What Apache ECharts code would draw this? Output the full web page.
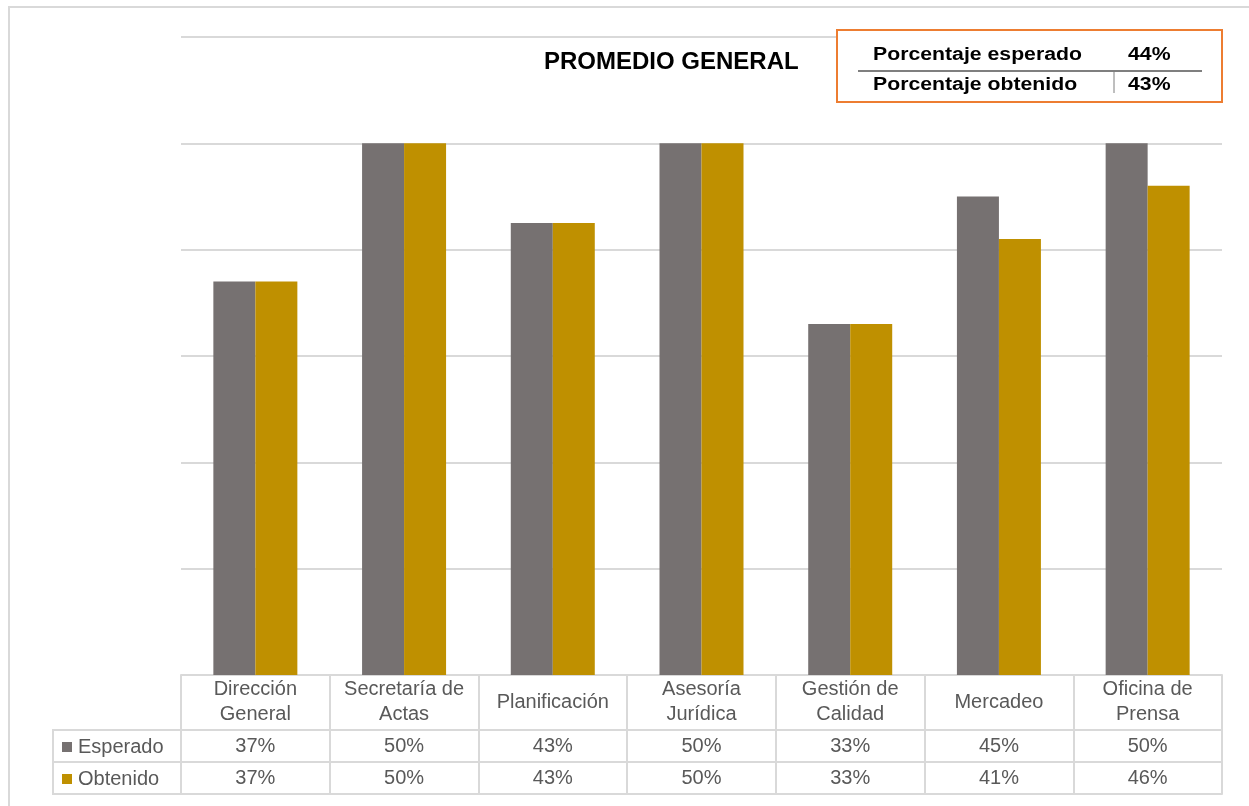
<!DOCTYPE html>
<html>
<head>
<meta charset="utf-8">
<script src="https://cdn.jsdelivr.net/npm/echarts@6/dist/echarts.min.js"></script>
<style>
html,body{margin:0;padding:0;background:#fff;}
#chart{width:1249px;height:806px;}
</style>
</head>
<body>
<div id="chart"></div>
<script>
const categories = ["Dirección\nGeneral", "Secretaría de\nActas", "Planificación", "Asesoría\nJurídica", "Gestión de\nCalidad", "Mercadeo", "Oficina de\nPrensa"];
const seriesNames = ["Esperado", "Obtenido"];
const esperado = [37.0, 50, 42.5, 50, 33.0, 45.0, 50];
const obtenido = [37.0, 50, 42.5, 50, 33.0, 41.0, 46.0];
const esperadoLabels = ["37%", "50%", "43%", "50%", "33%", "45%", "50%"];
const obtenidoLabels = ["37%", "50%", "43%", "50%", "33%", "41%", "46%"];
const summaryLabels = ["Porcentaje esperado", "Porcentaje obtenido"];
const summaryValues = ["44%", "43%"];
const titleText = "PROMEDIO GENERAL";

const FONT = "'Liberation Sans', Arial, sans-serif";
const GRIDC = "#d9d9d9";
const TXT = "#595959";
const colors = ["#767171", "#BF9000"];
const BOXFONT = "bold 18px 'Liberation Sans', Arial, sans-serif";

const chart = echarts.init(document.getElementById('chart'), null, {renderer: 'canvas'});

function tableAxis(offset, labels, margin, showLabel) {
  return {
    type: 'category', gridIndex: 0, position: 'bottom', offset: offset,
    data: categories,
    axisLine: {show: true, lineStyle: {color: GRIDC, width: 2}},
    axisTick: {show: false},
    axisLabel: {
      show: showLabel, margin: margin, verticalAlign: 'middle',
      fontFamily: FONT, fontSize: 20, color: TXT,
      formatter: (v, i) => labels ? labels[i] : ''
    },
    splitLine: {show: false}
  };
}

function boxText(x, y, t) {
  return {type: 'text', x: x, y: y, z: 101, scaleX: 1.18,
    style: {text: t, font: BOXFONT, fill: '#000', textVerticalAlign: 'middle', verticalAlign: 'middle'}};
}

const option = {
  animation: false,
  backgroundColor: '#fff',
  legend: {
    orient: 'vertical', left: 62, top: 737, padding: 0,
    itemWidth: 10, itemHeight: 10, itemGap: 12, icon: 'rect',
    data: seriesNames,
    textStyle: {fontFamily: FONT, fontSize: 20, color: TXT, padding: [0, 0, 0, 1]}
  },
  grid: {left: 181, right: 27, top: 37, bottom: 131, containLabel: false},
  xAxis: [
    {
      type: 'category', data: categories, position: 'bottom',
      axisLine: {show: true, lineStyle: {color: GRIDC, width: 2}},
      axisTick: {show: true, length: 119, lineStyle: {color: GRIDC, width: 2}},
      axisLabel: {
        margin: 27, verticalAlign: 'middle', lineHeight: 25,
        fontFamily: FONT, fontSize: 20, color: TXT, interval: 0
      }
    },
    tableAxis(55, esperadoLabels, 16, true),
    tableAxis(87, obtenidoLabels, 16, true),
    tableAxis(119, null, 5, false)
  ],
  yAxis: {
    type: 'value', min: 0, max: 60, interval: 10,
    axisLabel: {show: false}, axisLine: {show: false}, axisTick: {show: false},
    splitLine: {show: true, lineStyle: {color: GRIDC, width: 2}}
  },
  series: [
    {name: seriesNames[0], type: 'bar', data: esperado, barWidth: 42, barGap: '0%',
     itemStyle: {color: colors[0]}},
    {name: seriesNames[1], type: 'bar', data: obtenido, barWidth: 42, barGap: '0%',
     itemStyle: {color: colors[1]}}
  ],
  graphic: [
    {type: 'rect', z: 100, shape: {x: 9, y: 7, width: 1300, height: 900}, style: {fill: 'none', stroke: GRIDC, lineWidth: 2}, silent: true},
    {type: 'line', z: 100, shape: {x1: 52, y1: 730, x2: 181, y2: 730}, style: {stroke: GRIDC, lineWidth: 2}},
    {type: 'line', z: 100, shape: {x1: 52, y1: 762, x2: 181, y2: 762}, style: {stroke: GRIDC, lineWidth: 2}},
    {type: 'line', z: 100, shape: {x1: 52, y1: 794, x2: 181, y2: 794}, style: {stroke: GRIDC, lineWidth: 2}},
    {type: 'line', z: 100, shape: {x1: 53, y1: 729, x2: 53, y2: 795}, style: {stroke: GRIDC, lineWidth: 2}},
    {type: 'text', z: 100, x: 544, y: 62,
     style: {text: titleText, font: "bold 24px 'Liberation Sans', Arial, sans-serif", fill: '#000', textVerticalAlign: 'middle', verticalAlign: 'middle'}},
    {type: 'rect', z: 100, shape: {x: 837, y: 30, width: 385, height: 72}, style: {fill: '#fff', stroke: '#ED7D31', lineWidth: 2}},
    {type: 'line', z: 101, shape: {x1: 858, y1: 71, x2: 1202, y2: 71}, style: {stroke: '#7f7f7f', lineWidth: 2}},
    {type: 'line', z: 101, shape: {x1: 1114, y1: 71, x2: 1114, y2: 93}, style: {stroke: '#7f7f7f', lineWidth: 1}},
    boxText(873, 55, summaryLabels[0]),
    boxText(873, 85, summaryLabels[1]),
    boxText(1128, 55, summaryValues[0]),
    boxText(1128, 85, summaryValues[1])
  ]
};
chart.setOption(option);
</script>
</body>
</html>
